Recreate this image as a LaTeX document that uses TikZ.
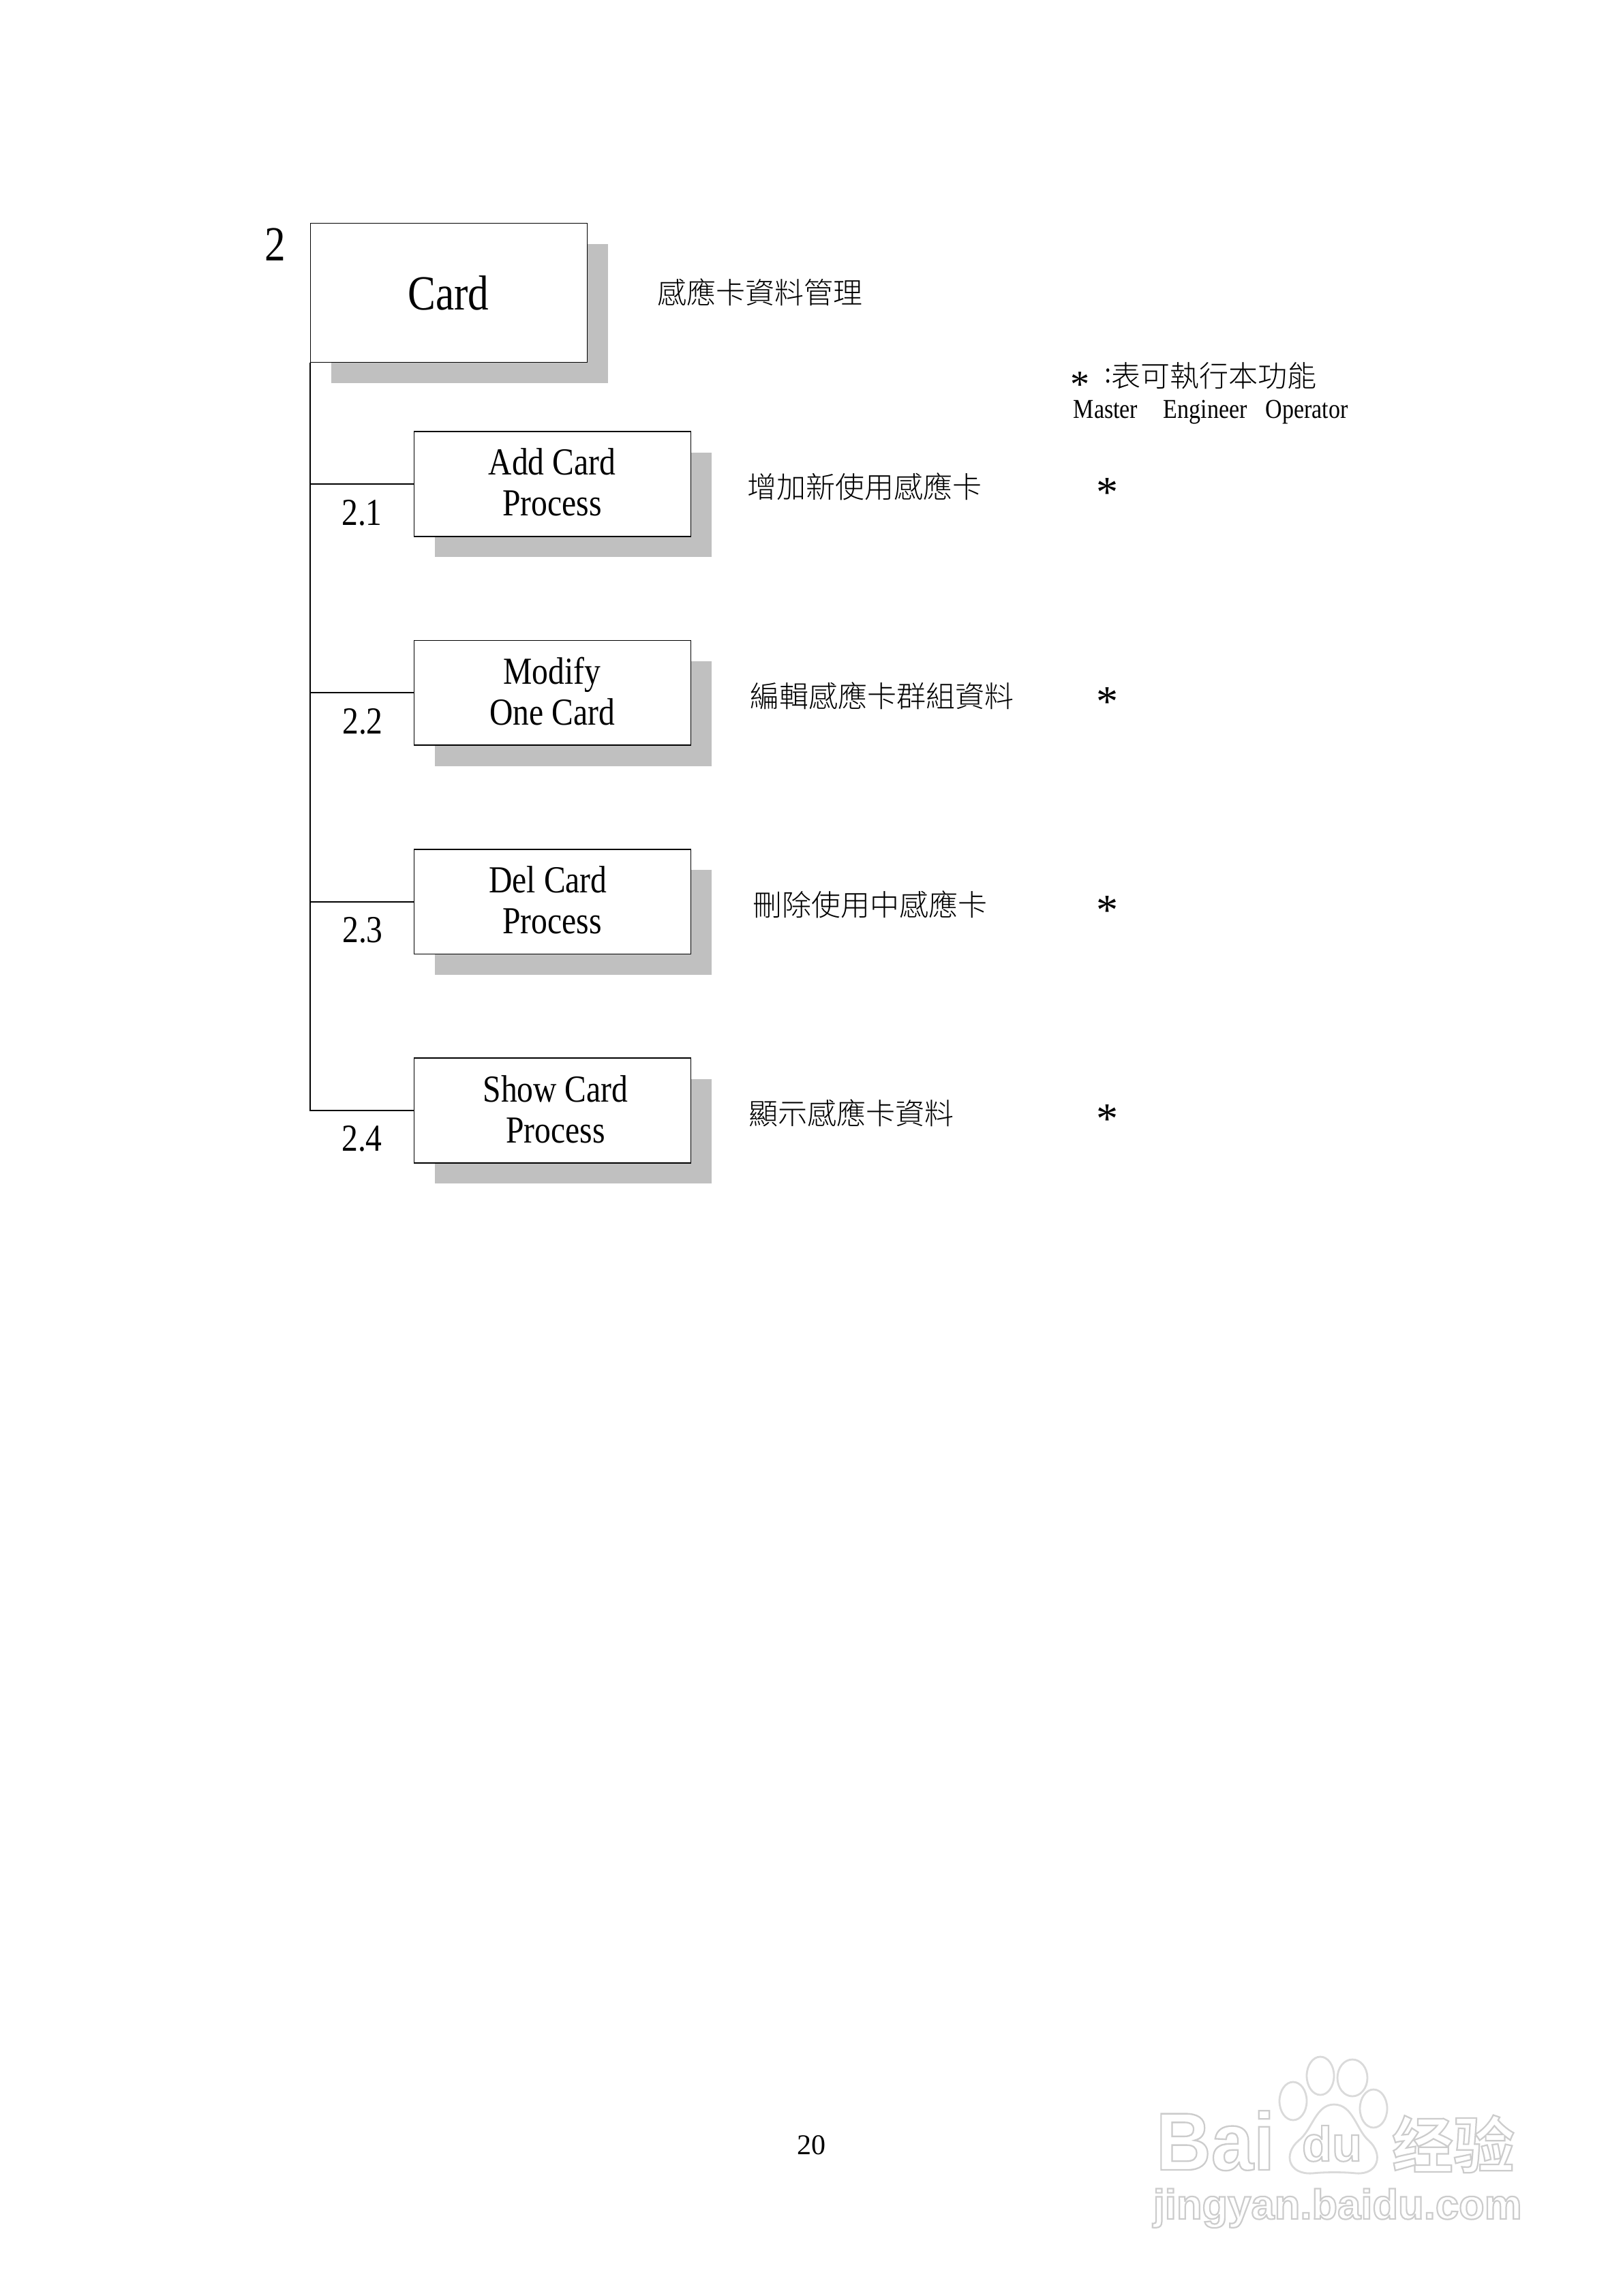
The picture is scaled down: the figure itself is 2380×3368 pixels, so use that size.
\documentclass[tikz,border=0pt]{standalone}
\usepackage{graphicx}
\usepackage{fontspec}
\setmainfont[FakeStretch=0.85]{Liberation Serif}
\newfontfamily\plainserif{Liberation Serif}
\newfontfamily\cjk{Noto Sans CJK TC Light}
\newfontfamily\wmsans[BoldFont={Liberation Sans Bold}]{Liberation Sans}
\newfontfamily\wmcjk{Noto Sans CJK SC Bold}
\newcommand{\fsz}[1]{\fontsize{#1}{#1}\selectfont}
\definecolor{shadowgray}{HTML}{C0C0C0}
\definecolor{wmgray}{HTML}{DADADA}
\tikzset{
  shadowbox/.style={fill=shadowgray,draw=none,inner sep=0pt},
  mainbox/.style={draw=black,line width=0.45pt,fill=white,inner sep=0pt,minimum width=101.5pt,minimum height=51pt},
  subbox/.style={draw=black,line width=0.45pt,fill=white,inner sep=0pt,minimum width=101.5pt,minimum height=38.4pt},
  subshadow/.style={shadowbox,minimum width=101.5pt,minimum height=38.4pt},
  mainshadow/.style={shadowbox,minimum width=101.5pt,minimum height=51pt},
  conn/.style={draw=black,line width=0.45pt},
  boxtext/.style={anchor=base,inner sep=0pt,font=\fsz{14}},
  numtext/.style={anchor=base,inner sep=0pt,font=\fsz{14}},
  desc/.style={anchor=west,inner sep=0pt,font=\cjk\fsz{10.75}},
  star/.style={inner sep=0pt,font=\plainserif\fsz{16}},
  roletext/.style={anchor=base west,inner sep=0pt,font=\fsz{10}},
  wmline/.style={draw=wmgray,line width=0.7pt,fill=white},
}
\newcommand{\wm}[5]{% name, x, y, font, text: one outlined text
  \node[anchor=base,inner sep=0pt,font=#4] (#1) at (#2,#3)
    {\special{pdf:code q 1 Tr 0.55 w 0.8 G}#5\special{pdf:code Q}};
}
\begin{document}
\begin{tikzpicture}[x=0.25pt,y=-0.25pt]
\useasboundingbox (0,0) rectangle (2380,3368);
\fill[white] (0,0) rectangle (2380,3368);
% main box
\node[mainshadow] (cardshadow) at (689.1,460.2) {};
\node[mainbox] (card) at (658.5,429.5) {};
\node[anchor=base,inner sep=0pt,font=\fsz{18}] (cardtext) at (658,455) {Card};
\node[anchor=base,inner sep=0pt,font=\fsz{18}] (num) at (404,383) {2};
% sub shadows and boxes
\node[subshadow] (s1) at (841.1,740.6) {};
\node[subshadow] (s2) at (841.1,1046.9) {};
\node[subshadow] (s3) at (841.1,1353.2) {};
\node[subshadow] (s4) at (841.1,1659.5) {};
\node[subbox] (b1) at (810.5,710) {};
\node[subbox] (b2) at (810.5,1016.3) {};
\node[subbox] (b3) at (810.5,1322.6) {};
\node[subbox] (b4) at (810.5,1628.9) {};
% connectors
\draw[conn] (card.south west) -- (card.south west |- b4.west) -- (b4.west);
\draw[conn] (card.south west |- b1.west) -- (b1.west);
\draw[conn] (card.south west |- b2.west) -- (b2.west);
\draw[conn] (card.south west |- b3.west) -- (b3.west);
% box labels
\node[boxtext] (t1a) at (810,697) {Add Card};
\node[boxtext] (t1b) at (810,757) {Process};
\node[boxtext] (t2a) at (810,1003) {Modify};
\node[boxtext] (t2b) at (810,1063) {One Card};
\node[boxtext] (t3a) at (804,1309.5) {Del Card};
\node[boxtext] (t3b) at (810,1369.5) {Process};
\node[boxtext] (t4a) at (815,1616) {Show Card};
\node[boxtext] (t4b) at (815,1676) {Process};
% numbers
\node[numtext] (n1) at (531,771) {2.1};
\node[numtext] (n2) at (532,1076) {2.2};
\node[numtext] (n3) at (532,1382) {2.3};
\node[numtext] (n4) at (531,1688) {2.4};
% descriptions
\node[desc] (d0) at (964,429) {感應卡資料管理};
\node[desc] (d1) at (1096,714) {增加新使用感應卡};
\node[desc] (d2) at (1100,1021) {編輯感應卡群組資料};
\node[desc] (d3) at (1104,1327) {刪除使用中感應卡};
\node[desc] (d4) at (1098,1633) {顯示感應卡資料};
% legend
\node[anchor=base,inner sep=0pt,font=\plainserif\fsz{14}] (ls) at (1584,583) {\smash{*}};
\node[anchor=west,inner sep=0pt,font=\fsz{11}] (lc) at (1620,551) {:};
\node[desc] (lt) at (1630,551) {表可執行本功能};
\node[roletext] (r1) at (1574,614) {Master};
\node[roletext] (r2) at (1706,614) {Engineer};
\node[roletext] (r3) at (1856,614) {Operator};
% stars
\node[star] (a1) at (1624,723) {*};
\node[star] (a2) at (1624,1030) {*};
\node[star] (a3) at (1624,1336) {*};
\node[star] (a4) at (1624,1642) {*};
% page number
\node[anchor=base,inner sep=0pt,font=\plainserif\fsz{10.5}] (page) at (1190,3160) {20};
% watermark
\draw[wmline] (1897,3082) ellipse (20 and 28);
\draw[wmline] (1937,3045) ellipse (20 and 28);
\draw[wmline] (1984,3048) ellipse (22 and 27);
\draw[wmline] (2015,3093) ellipse (20 and 28);
\wm{wb}{1783}{3183}{\wmsans\bfseries\fsz{28}}{\scalebox{1}[1.07]{Bai}}
\draw[wmline] (1957,3087) .. controls (1985,3087) and (1990,3125) .. (2008,3140)
  .. controls (2030,3160) and (2022,3190) .. (1990,3188)
  .. controls (1970,3186) and (1945,3186) .. (1925,3188)
  .. controls (1890,3190) and (1882,3160) .. (1905,3140)
  .. controls (1925,3125) and (1930,3087) .. (1957,3087) -- cycle;
\wm{wd}{1954}{3170}{\wmsans\bfseries\fsz{18}}{du}
\wm{wj}{2132}{3180}{\wmcjk\fsz{22.5}}{经验}
\wm{wu}{1962}{3255}{\wmsans\bfseries\fsz{15.4}}{jingyan.baidu.com}
\end{tikzpicture}
\end{document}
